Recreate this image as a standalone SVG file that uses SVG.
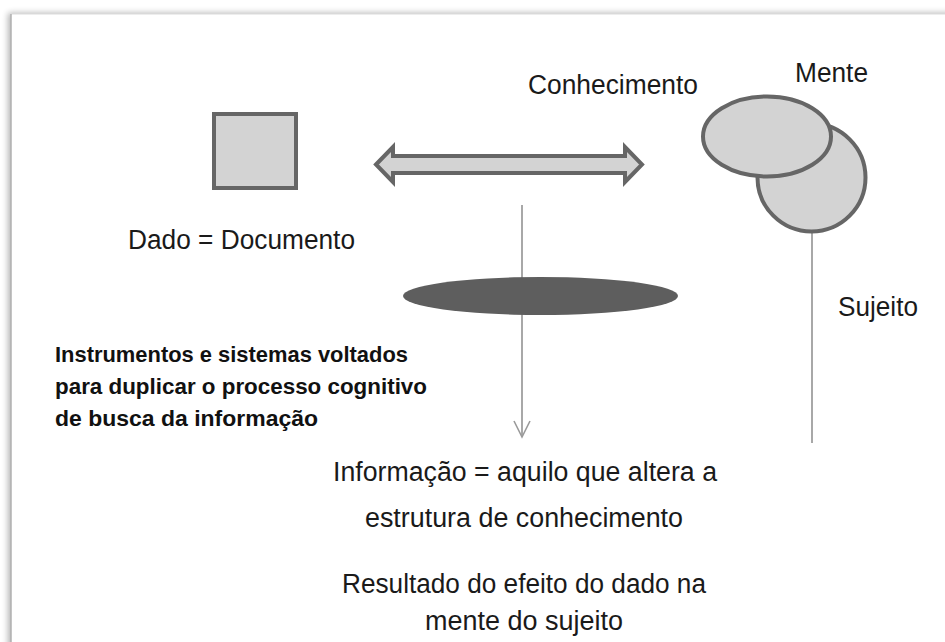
<svg xmlns="http://www.w3.org/2000/svg" width="945" height="642" viewBox="0 0 945 642">
<defs>
<filter id="sh" x="-5%" y="-5%" width="110%" height="110%">
<feGaussianBlur in="SourceAlpha" stdDeviation="3"/>
<feOffset dx="-3" dy="-1"/>
<feComponentTransfer><feFuncA type="linear" slope="0.3"/></feComponentTransfer>
<feMerge><feMergeNode/><feMergeNode in="SourceGraphic"/></feMerge>
</filter>
<marker id="vee" viewBox="0 0 20 20" refX="18" refY="10" markerWidth="20" markerHeight="20" markerUnits="userSpaceOnUse" orient="auto">
<path d="M2,2 L18,10 L2,18" fill="none" stroke="#9a9a9a" stroke-width="1.6"/>
</marker>
</defs>
<style>
.t{font-family:"Liberation Sans",Arial,sans-serif;font-size:27px;fill:#1a1a1a}
.b{font-family:"Liberation Sans",Arial,sans-serif;font-size:22px;font-weight:bold;fill:#111}
.shape{fill:#d3d3d3;stroke:#666;stroke-width:4}
.line{stroke:#a8a8a8;stroke-width:2;fill:none}
</style>
<rect x="0" y="0" width="945" height="642" fill="#fff"/>
<rect x="11" y="14" width="1000" height="700" fill="#fff" filter="url(#sh)"/>
<line x1="11" y1="14" x2="945" y2="14" stroke="#dcdcdc" stroke-width="1"/>
<line x1="11" y1="14" x2="11" y2="642" stroke="#b0b0b0" stroke-width="1.5"/>

<g id="connectors">
<line class="line" x1="522" y1="205" x2="522" y2="437" marker-end="url(#vee)"/>
<line class="line" x1="812" y1="233" x2="812" y2="443"/>
</g>

<g id="documento">
<rect class="shape" x="214" y="114" width="82" height="74"/>
<text class="t" x="128" y="249" textLength="227" lengthAdjust="spacingAndGlyphs">Dado = Documento</text>
</g>

<g id="conhecimento">
<polygon class="shape" stroke-width="3.5" stroke-linejoin="miter" points="376,164.5 393,147 393,156 625,156 625,147 642,164.5 625,182 625,173 393,173 393,182"/>
<text class="t" x="528" y="94" textLength="170" lengthAdjust="spacingAndGlyphs">Conhecimento</text>
</g>

<g id="mente">
<ellipse class="shape" cx="811.5" cy="177.5" rx="54" ry="54"/>
<ellipse class="shape" cx="767" cy="136.5" rx="64" ry="40"/>
<text class="t" x="795" y="82" textLength="73" lengthAdjust="spacingAndGlyphs">Mente</text>
</g>

<g id="sujeito">
<text class="t" x="838" y="316" textLength="80" lengthAdjust="spacingAndGlyphs">Sujeito</text>
</g>

<g id="filtro">
<ellipse cx="540.5" cy="296" rx="137.5" ry="19" fill="#5e5e5e"/>
</g>

<g id="instrumentos">
<text class="b" x="55" y="362" textLength="353" lengthAdjust="spacingAndGlyphs">Instrumentos e sistemas voltados</text>
<text class="b" x="55" y="394" textLength="372" lengthAdjust="spacingAndGlyphs">para duplicar o processo cognitivo</text>
<text class="b" x="55" y="426" textLength="263" lengthAdjust="spacingAndGlyphs">de busca da informação</text>
</g>

<g id="informacao">
<text class="t" x="333" y="481" textLength="384" lengthAdjust="spacingAndGlyphs">Informação = aquilo que altera a</text>
<text class="t" x="365" y="527" textLength="318" lengthAdjust="spacingAndGlyphs">estrutura de conhecimento</text>
<text class="t" x="342" y="593" textLength="364" lengthAdjust="spacingAndGlyphs">Resultado do efeito do dado na</text>
<text class="t" x="425" y="630" textLength="198" lengthAdjust="spacingAndGlyphs">mente do sujeito</text>
</g>
</svg>
